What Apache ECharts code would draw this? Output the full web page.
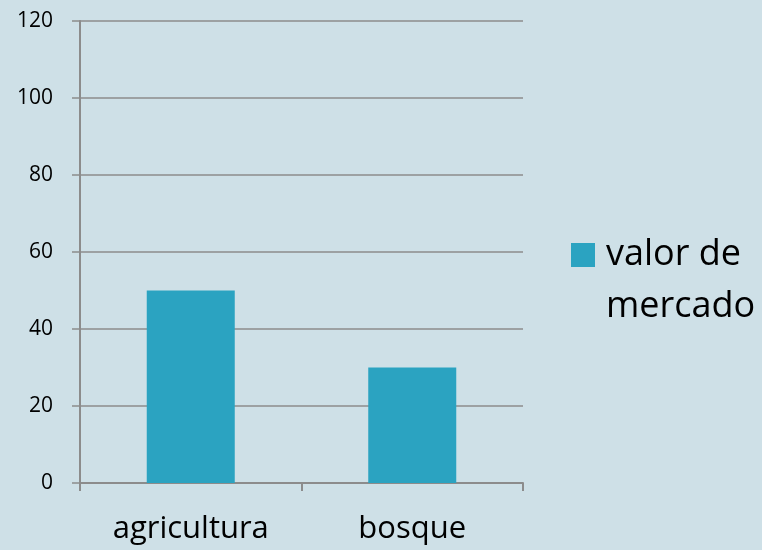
<!DOCTYPE html>
<html>
<head>
<meta charset="utf-8">
<script src="https://cdn.jsdelivr.net/npm/echarts@6/dist/echarts.min.js"></script>
<style>
  html, body { margin: 0; padding: 0; background: #cee0e7; }
  #chart { width: 762px; height: 550px; }
</style>
</head>
<body>
<div id="chart"></div>
<script>
// datos
var categorias = ['agricultura', 'bosque'];
var valorMercado = [50, 30];
var nombreSerie = 'valor de mercado';

var chart = echarts.init(document.getElementById('chart'));
var lineColor = '#8c8c8c';

var option = {
  backgroundColor: '#cee0e7',
  textStyle: { fontFamily: 'Open Sans' },
  animation: false,
  grid: { left: 80, right: 239, top: 21, bottom: 67 },
  legend: {
    orient: 'vertical',
    left: 571,
    top: 177,
    padding: 0,
    itemWidth: 24,
    itemHeight: 24,
    itemGap: 0,
    icon: 'rect',
    // línea vacía arriba para que el icono quede junto a la primera línea
    formatter: function (name) {
      return ' \nvalor de\nmercado';
    },
    textStyle: {
      fontFamily: 'Open Sans',
      fontSize: 36,
      lineHeight: 52,
      color: '#000',
      padding: [0, 0, 0, 6]
    },
    data: [nombreSerie]
  },
  xAxis: {
    type: 'category',
    data: categorias,
    axisLine: { lineStyle: { color: lineColor, width: 2 } },
    axisTick: { show: true, length: 8, lineStyle: { color: lineColor, width: 2 } },
    axisLabel: { color: '#000', fontSize: 31, margin: 31, fontFamily: 'Open Sans' }
  },
  yAxis: {
    type: 'value',
    min: 0,
    max: 120,
    interval: 20,
    axisLine: { show: true, lineStyle: { color: lineColor, width: 2 } },
    axisTick: { show: true, length: 8, lineStyle: { color: lineColor, width: 1.5 } },
    axisLabel: { color: '#000', fontSize: 21, margin: 27, fontFamily: 'Open Sans' },
    splitLine: { lineStyle: { color: lineColor, width: 1.5 } }
  },
  series: [
    {
      name: nombreSerie,
      type: 'bar',
      data: valorMercado,
      barWidth: 88,
      itemStyle: { color: '#2ba3c1' }
    }
  ]
};

chart.setOption(option);
</script>
</body>
</html>
